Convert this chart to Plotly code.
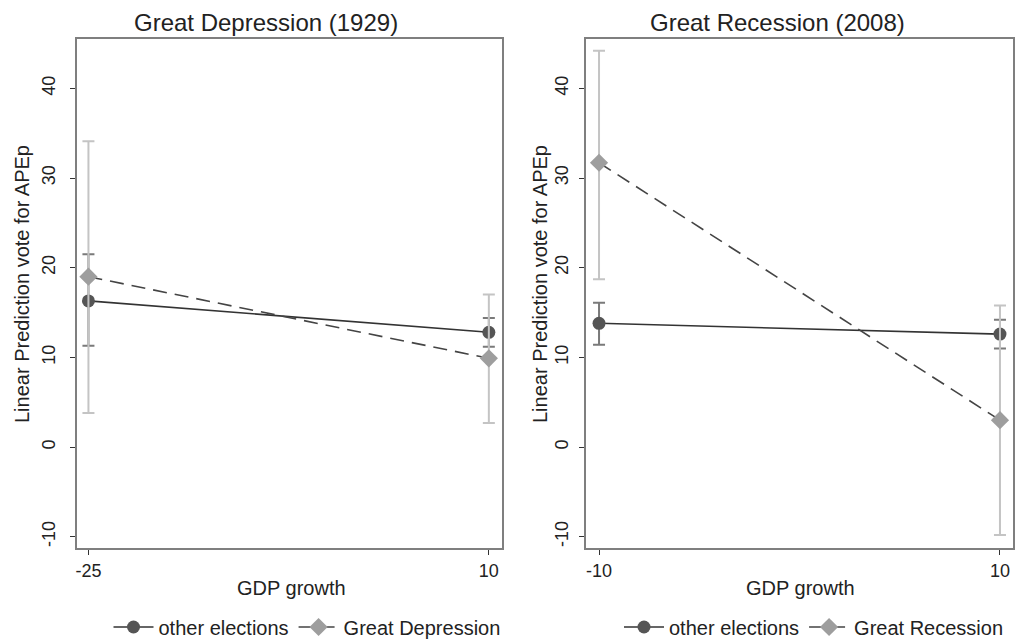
import plotly.graph_objects as go

# ---- data ----
gdp_left = [-25, 10]
other_left = [16.3, 12.8]
other_left_lo = [11.3, 11.2]
other_left_hi = [21.5, 14.4]
gd_left = [19.0, 9.9]
gd_left_lo = [3.8, 2.7]
gd_left_hi = [34.1, 17.0]

gdp_right = [-10, 10]
other_right = [13.8, 12.6]
other_right_lo = [11.4, 11.0]
other_right_hi = [16.1, 14.2]
gr_right = [31.7, 3.0]
gr_right_lo = [18.7, -9.8]
gr_right_hi = [44.2, 15.8]

y_ticks = [-10, 0, 10, 20, 30, 40]
titles = ["Great Depression (1929)", "Great Recession (2008)"]

FONT = "Liberation Sans, Arial, sans-serif"
C_OTHER_M = "#555555"
C_OTHER_CI = "#7a7a7a"
C_GD_M = "#9e9e9e"
C_GD_CI = "#c4c4c4"

W, H = 1017, 632  # page body has an 8px margin


def px(x):
    return x / W


def py(y):
    return (H - y) / H


def err(vals, lo, hi):
    return dict(type="data", symmetric=False,
                array=[h - v for v, h in zip(vals, hi)],
                arrayminus=[v - l for v, l in zip(vals, lo)])


fig = go.Figure()

panels = [
    (gdp_left, other_left, other_left_lo, other_left_hi, gd_left, gd_left_lo, gd_left_hi,
     "Great Depression", "x", "y", "legend"),
    (gdp_right, other_right, other_right_lo, other_right_hi, gr_right, gr_right_lo, gr_right_hi,
     "Great Recession", "x2", "y2", "legend2"),
]

for (gx, ov, olo, ohi, gv, glo, ghi, gname, xa, ya, lg) in panels:
    e = err(ov, olo, ohi)
    e.update(color=C_OTHER_CI, thickness=2, width=6)
    fig.add_trace(go.Scatter(
        x=gx, y=ov, mode="lines+markers", name="other elections",
        line=dict(color="#333333", width=1.6),
        marker=dict(symbol="circle", size=13, color=C_OTHER_M),
        error_y=e, xaxis=xa, yaxis=ya, legend=lg))
    e2 = err(gv, glo, ghi)
    e2.update(color=C_GD_CI, thickness=2, width=6)
    fig.add_trace(go.Scatter(
        x=gx, y=gv, mode="lines+markers", name=gname,
        line=dict(color="#444444", width=1.6, dash="14px,8px"),
        marker=dict(symbol="diamond", size=14, color=C_GD_M),
        error_y=e2, xaxis=xa, yaxis=ya, legend=lg))

axis_common = dict(showline=True, mirror=True, linecolor="#7f7f7f", linewidth=2,
                   showgrid=False, zeroline=False, ticks="outside", ticklen=5,
                   tickcolor="#333333", tickfont=dict(family=FONT, size=18, color="#222222"))

ydom = [py(540), py(31)]
ytext = [str(v) for v in y_ticks]
fig.update_layout(
    width=W, height=H,
    margin=dict(l=0, r=0, t=0, b=0, autoexpand=False),
    paper_bgcolor="white", plot_bgcolor="white",
    font=dict(family=FONT, color="#222222"),
    xaxis=dict(domain=[px(69), px(494)], range=[-26.0, 11.15], automargin=False,
               tickvals=gdp_left, ticktext=[str(v) for v in gdp_left], **axis_common),
    yaxis=dict(domain=ydom, range=[-11.25, 45.5], tickvals=y_ticks, ticktext=ytext,
               tickangle=-90, anchor="x", ticklabelstandoff=8, automargin=False,
               **axis_common),
    xaxis2=dict(domain=[px(578), px(1005)], range=[-10.65, 10.65], automargin=False,
                tickvals=gdp_right, ticktext=[str(v) for v in gdp_right], anchor="y2",
                **axis_common),
    yaxis2=dict(domain=ydom, range=[-11.25, 45.5], tickvals=y_ticks, ticktext=ytext,
                tickangle=-90, anchor="x2", ticklabelstandoff=4, automargin=False,
                **axis_common),
    legend=dict(orientation="h", x=px(299), xanchor="center", y=py(619),
                yanchor="middle", font=dict(family=FONT, size=20, color="#222222"),
                bgcolor="rgba(0,0,0,0)", itemwidth=40),
    legend2=dict(orientation="h", x=px(806), xanchor="center", y=py(619),
                 yanchor="middle", font=dict(family=FONT, size=20, color="#222222"),
                 bgcolor="rgba(0,0,0,0)", itemwidth=40),
)

annos = []
for cx, t in zip([258, 769], titles):
    annos.append(dict(text=t, x=px(cx), y=py(14), xref="paper", yref="paper",
                      showarrow=False, xanchor="center", yanchor="middle",
                      font=dict(family=FONT, size=24, color="#222222")))
for cx in [283, 792]:
    annos.append(dict(text="GDP growth", x=px(cx), y=py(580), xref="paper",
                      yref="paper", showarrow=False, xanchor="center", yanchor="middle",
                      font=dict(family=FONT, size=20, color="#222222")))
for cx in [14, 532]:
    annos.append(dict(text="Linear Prediction vote for APEp", x=px(cx), y=py(276),
                      xref="paper", yref="paper", showarrow=False, textangle=-90,
                      xanchor="center", yanchor="middle",
                      font=dict(family=FONT, size=20, color="#222222")))
fig.update_layout(annotations=annos)

fig.write_html("out.html")
